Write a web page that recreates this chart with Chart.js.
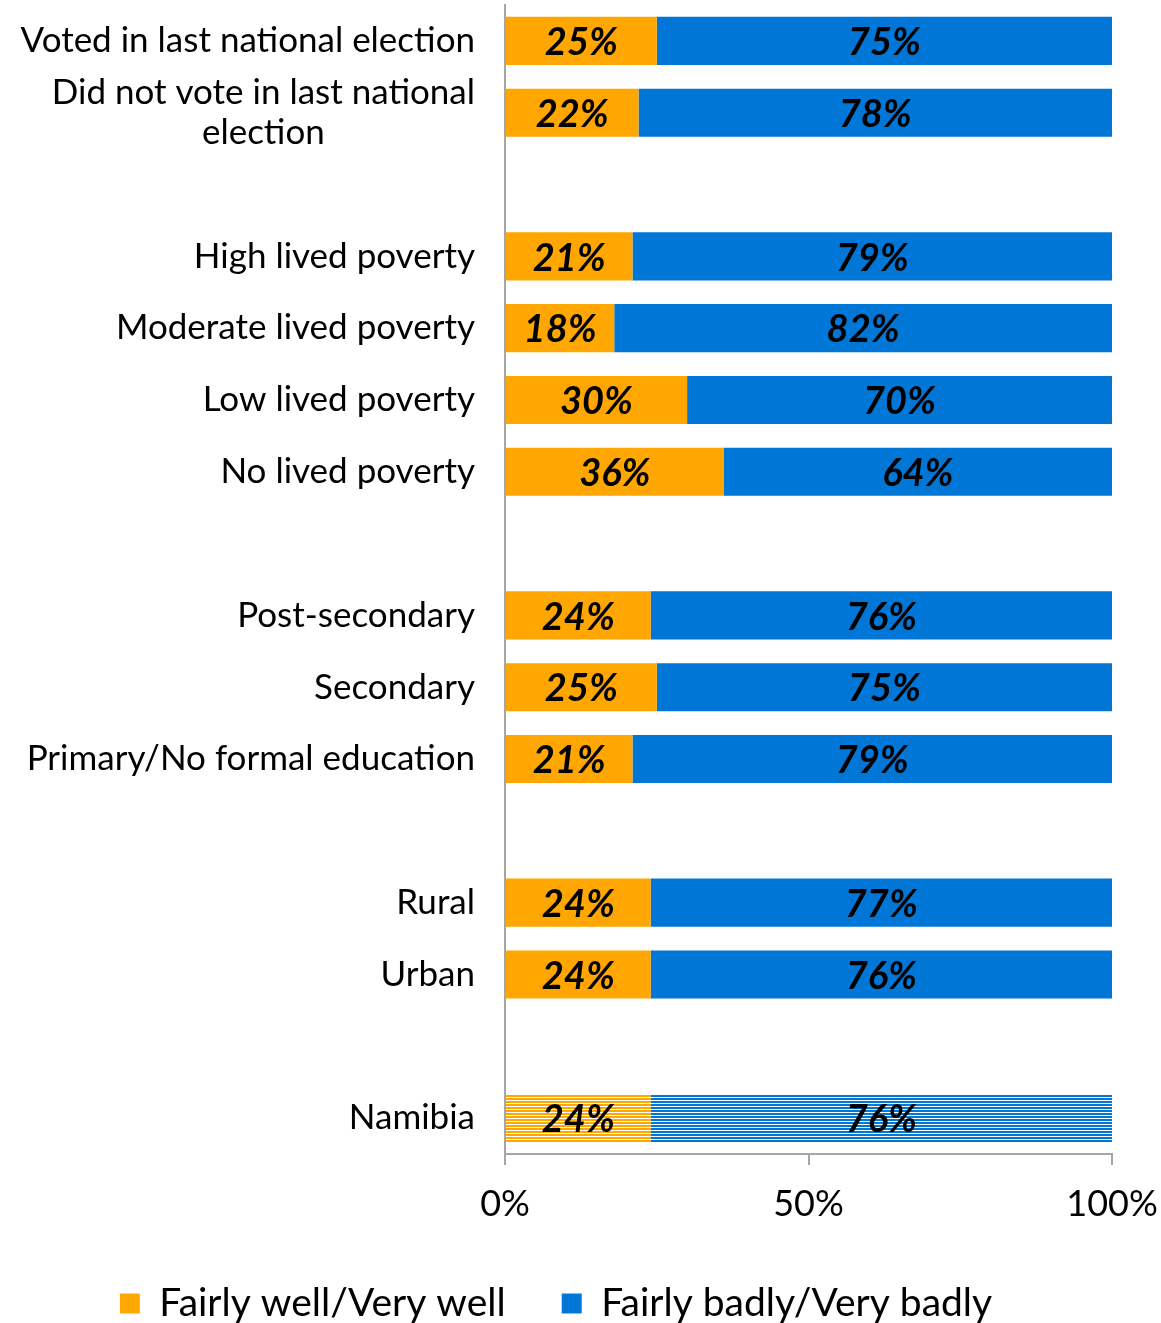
<!DOCTYPE html>
<html>
<head>
<meta charset="utf-8">
<title>Performance by group</title>
<script src="https://cdn.jsdelivr.net/npm/chart.js@4"></script>
<style>
  html, body { margin: 0; padding: 0; background: #fff; }
</style>
</head>
<body>
<canvas id="chart" width="1161" height="1323"></canvas>
<script>
// rows of the chart, blank entries leave a gap between groups
const categories = [
    ["Voted in last national election"],
    ["Did not vote in last national", "election"],
    [""],
    ["High lived poverty"],
    ["Moderate lived poverty"],
    ["Low lived poverty"],
    ["No lived poverty"],
    [""],
    ["Post-secondary"],
    ["Secondary"],
    ["Primary/No formal education"],
    [""],
    ["Rural"],
    ["Urban"],
    [""],
    ["Namibia"]
];

const wellValues  = [25, 22, null, 21, 18, 30, 36, null, 24, 25, 21, null, 24, 24, null, 24];
const badlyValues = [75, 78, null, 79, 82, 70, 64, null, 76, 75, 79, null, 77, 76, null, 76];

const seriesNames = ["Fairly well/Very well", "Fairly badly/Very badly"];
const seriesColors = ["#FFA700", "#0077D6"];
const xTicks = [0, 50, 100];

const nationalRow = categories.findIndex(c => c[0] === "Namibia");
const axisGrey = "#A6A6A6";
const fontFamily = "Lato, 'Open Sans', sans-serif";

// horizontal white pin-stripes for the national total
function stripes(color) {
    const c = document.createElement("canvas");
    c.width = 4;
    c.height = 3;
    const g = c.getContext("2d");
    g.fillStyle = "#fff";
    g.fillRect(0, 0, 4, 3);
    g.fillStyle = color;
    g.fillRect(0, 0, 4, 2);
    return g.createPattern(c, "repeat");
}

function barFill(color) {
    const pattern = stripes(color);
    return ctx => (ctx.dataIndex === nationalRow ? pattern : color);
}

const labelsPlugin = {
    id: "rowLabels",
    afterDatasetsDraw(chart) {
        const ctx = chart.ctx;
        ctx.save();
        ctx.fillStyle = "#000";
        ctx.textAlign = "center";
        ctx.textBaseline = "middle";
        ctx.font = "italic bold 38px " + fontFamily;
        chart.data.datasets.forEach((ds, di) => {
            const meta = chart.getDatasetMeta(di);
            meta.data.forEach((bar, i) => {
                const v = ds.data[i];
                if (v == null) return;
                const right = Math.min(bar.x, chart.chartArea.right);
                ctx.fillText(v + "%", (bar.base + right) / 2, bar.y + 2);
            });
        });
        ctx.restore();
    },
    afterDraw(chart) {
        // category names, multi-line ones centred on their longest line
        const ctx = chart.ctx;
        const yScale = chart.scales.y;
        const right = chart.chartArea.left - 30;
        const lineH = 40;
        ctx.save();
        ctx.fillStyle = "#000";
        ctx.textBaseline = "middle";
        ctx.textAlign = "center";
        ctx.font = "35px " + fontFamily;
        categories.forEach((lines, i) => {
            const y = yScale.getPixelForValue(i);
            const widest = Math.max(...lines.map(l => ctx.measureText(l).width));
            const mid = right - widest / 2;
            lines.forEach((line, k) => {
                ctx.fillText(line, mid, y + (k - (lines.length - 1) / 2) * lineH);
            });
        });
        ctx.restore();
    }
};

new Chart(document.getElementById("chart"), {
    type: "bar",
    data: {
        labels: categories,
        datasets: [
            {
                label: seriesNames[0],
                data: wellValues,
                backgroundColor: barFill(seriesColors[0]),
                borderWidth: 0
            },
            {
                label: seriesNames[1],
                data: badlyValues,
                backgroundColor: barFill(seriesColors[1]),
                borderWidth: 0
            }
        ]
    },
    options: {
        indexAxis: "y",
        responsive: false,
        animation: false,
        devicePixelRatio: 1,
        categoryPercentage: 1,
        barPercentage: 0.67,
        layout: { padding: { top: 5, right: 49, left: 0, bottom: -10 } },
        scales: {
            x: {
                stacked: true,
                min: xTicks[0],
                max: xTicks[xTicks.length - 1],
                afterBuildTicks: scale => { scale.ticks = xTicks.map(v => ({ value: v })); },
                afterFit: scale => {
                    scale.height = 74;
                    scale.paddingLeft = 0;
                    scale.paddingRight = 0;
                },
                ticks: {
                    padding: 18,
                    color: "#000",
                    font: { family: fontFamily, size: 36 },
                    callback: v => v + "%"
                },
                grid: { drawOnChartArea: false, tickLength: 11, color: axisGrey, lineWidth: 2 },
                border: { color: axisGrey, width: 2 }
            },
            y: {
                stacked: true,
                afterFit: scale => { scale.width = 505; },
                ticks: { display: false },
                grid: { drawOnChartArea: false, drawTicks: false, lineWidth: 0 },
                border: { color: axisGrey, width: 2 }
            }
        },
        plugins: {
            legend: {
                position: "bottom",
                labels: {
                    color: "#000",
                    font: { family: fontFamily, size: 39 },
                    boxWidth: 20,
                    boxHeight: 20,
                    padding: 56
                }
            },
            tooltip: { enabled: false }
        }
    },
    plugins: [labelsPlugin]
});
</script>
</body>
</html>
